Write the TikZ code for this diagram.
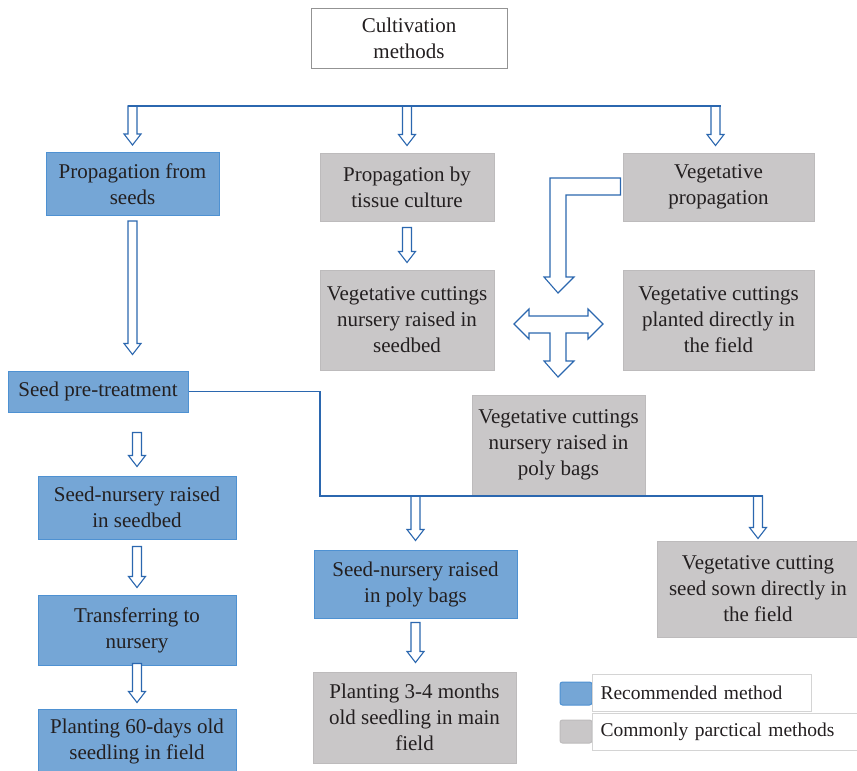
\documentclass[tikz,border=0pt]{standalone}
\usepackage{fontspec}
\setmainfont{Liberation Serif}
\usetikzlibrary{calc}
\definecolor{recblue}{HTML}{75A6D6}
\definecolor{recedge}{HTML}{4E91D2}
\definecolor{comgray}{HTML}{C9C7C8}
\definecolor{comedge}{HTML}{BDBBBC}
\definecolor{arrowblue}{HTML}{2B67AF}
\definecolor{inkgray}{HTML}{231F20}
\definecolor{legedge}{HTML}{D4D4D4}

% hollow block arrow pointing down, from #1 to the tip #2
\newcommand{\hollowdown}[2]{%
  \draw[hollowarrow] let \p1=#1, \p2=#2 in
    ({\x1-4.5pt},\y1) -- ({\x1+4.5pt},\y1) -- ({\x1+4.5pt},{\y2+11pt})
    -- ({\x1+8.5pt},{\y2+11pt}) -- (\x1,\y2) -- ({\x1-8.5pt},{\y2+11pt})
    -- ({\x1-4.5pt},{\y2+11pt}) -- cycle;}

\begin{document}
\begin{tikzpicture}[x=1pt,y=-1pt]
\tikzset{
  box/.style={draw, line width=1pt, align=center, inner sep=2pt,
    font=\fontsize{21}{26}\selectfont, text=inkgray},
  recbox/.style={box, fill=recblue, draw=recedge},
  combox/.style={box, fill=comgray, draw=comedge},
  topbox/.style={box, fill=white, draw=gray!85},
  legswatch/.style={draw, line width=1pt, rounded corners=2.5pt,
    minimum width=32pt, minimum height=23pt},
  legtext/.style={draw=legedge, line width=1pt, fill=white, anchor=west,
    minimum height=37pt, inner xsep=8pt, align=left, text=inkgray,
    font=\fontsize{19.5}{24}\selectfont},
  hollowarrow/.style={draw=arrowblue, fill=white, line width=1.1pt,
    line join=miter},
  busline/.style={draw=arrowblue, line width=1.6pt}
}
\useasboundingbox (0,0) rectangle (857,771);

% boxes
\node[topbox, minimum width=196pt, minimum height=60pt] (cult) at (409,38)
  {Cultivation\\methods};
\node[recbox, minimum width=173pt, minimum height=63pt] (seeds) at (132.5,184)
  {Propagation from\\seeds};
\node[combox, minimum width=174pt, minimum height=68pt] (tissue) at (407,187)
  {Propagation by\\tissue culture};
\node[combox, minimum width=191pt, minimum height=68pt] (vegprop) at (718.5,187)
  {Vegetative\\propagation};
\node[combox, minimum width=174pt, minimum height=100pt] (vcseed) at (407,320)
  {Vegetative cuttings\\nursery raised in\\seedbed};
\node[combox, minimum width=191pt, minimum height=100pt] (vcfield) at (718.5,320)
  {Vegetative cuttings\\planted directly in\\the field};
\node[combox, minimum width=173pt, minimum height=100pt] (vcpoly) at (558.5,445)
  {Vegetative cuttings\\nursery raised in\\poly bags};
\node[recbox, minimum width=180pt, minimum height=41pt] (pretreat) at (98,391.5)
  {Seed pre-treatment};
\node[recbox, minimum width=198pt, minimum height=63pt] (snseed) at (137,507.5)
  {Seed-nursery raised\\in seedbed};
\node[recbox, minimum width=198pt, minimum height=70pt] (transfer) at (137,630)
  {Transferring to\\nursery};
\node[recbox, minimum width=198pt, minimum height=64pt] (plant60) at (137,741)
  {Planting 60-days old\\seedling in field};
\node[recbox, minimum width=203pt, minimum height=68pt] (snpoly) at (415.5,584)
  {Seed-nursery raised\\in poly bags};
\node[combox, minimum width=203pt, minimum height=91pt] (plant34) at (414.5,717.5)
  {Planting 3-4 months\\old seedling in main\\field};
\node[combox, minimum width=202pt, minimum height=96pt] (vcsown) at (758,589)
  {Vegetative cutting\\seed sown directly in\\the field};

% legend
\node[legswatch, fill=recblue, draw=recedge] (legrec) at (576,693.5) {};
\node[legtext, minimum width=219pt, text width=203pt] (legrectext) at (592,692.5)
  {Recommended method};
\node[legswatch, fill=comgray, draw=comedge] (legcom) at (576,731.5) {};
\node[legtext, minimum width=266pt, text width=250pt] (legcomtext) at (592,731.5)
  {Commonly parctical methods};

% top bus with three arrows
\coordinate (bus) at (0,106);
\hollowdown{(seeds.north |- bus)}{($(seeds.north)+(0,-7)$)}
\hollowdown{(tissue.north |- bus)}{($(tissue.north)+(0,-7)$)}
\hollowdown{($(vegprop.north |- bus)+(-3,0)$)}{($(vegprop.north)+(-3,-7)$)}
\draw[busline] ($(seeds.north |- bus)+(-5,0)$) -- ($(vegprop.north |- bus)+(2,0)$);

% seed branch
\hollowdown{($(seeds.south)+(0,5)$)}{($(seeds.south |- pretreat.north)+(0,-16)$)}
\hollowdown{($(snseed.north |- pretreat.south)+(0,20)$)}{($(snseed.north)+(0,-9)$)}
\hollowdown{($(snseed.south)+(0,7)$)}{($(transfer.north)+(0,-7)$)}
\hollowdown{($(transfer.south)+(0,-2)$)}{($(plant60.north)+(0,-6)$)}

% from pre-treatment to the right
\coordinate (jn) at (320,496);
\hollowdown{(snpoly.north |- jn)}{($(snpoly.north)+(0,-9)$)}
\hollowdown{(vcsown.north |- jn)}{($(vcsown.north)+(0,-2)$)}
\draw[busline, line width=1.2pt] (pretreat.east) -| (jn) -- ($(vcsown.north |- jn)+(5,0)$);
\hollowdown{($(snpoly.south)+(0,4)$)}{($(plant34.north)+(0,-9)$)}

% tissue culture
\hollowdown{($(tissue.south)+(0,6)$)}{($(vcseed.north)+(0,-7)$)}

% vegetative propagation: bent arrow and three-way arrow
\draw[hollowarrow] ($(vegprop.west)+(-2,-9)$) -- (550,178) -- (550,277) -- (544,277)
  -- (558,293) -- (574,277) -- (566,277) -- (566,195) -- ($(vegprop.west)+(-2,8)$) -- cycle;
\draw[hollowarrow] (514,324) -- (529,309) -- (529,316) -- (588,316) -- (588,309)
  -- (603,324) -- (588,339) -- (588,333) -- (566,333) -- (566,361) -- (574,361)
  -- (558,377) -- (544,361) -- (550,361) -- (550,333) -- (529,333) -- (529,339) -- cycle;
\end{tikzpicture}
\end{document}
